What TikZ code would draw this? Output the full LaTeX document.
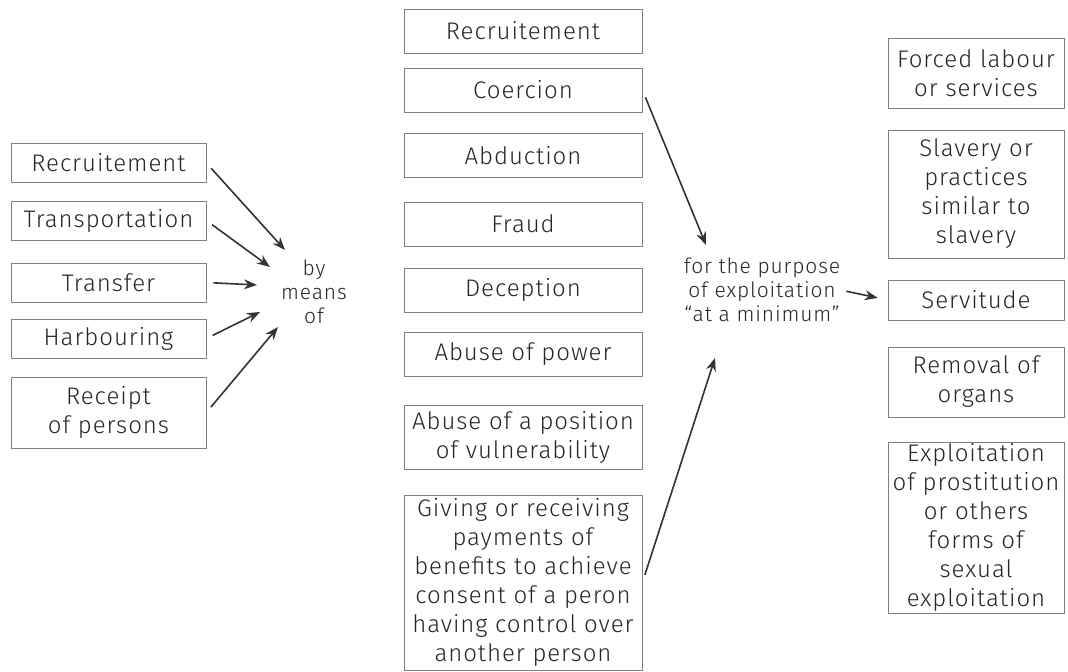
\documentclass[tikz,border=0pt]{standalone}
\usepackage{fontspec}
\setmainfont{Fira Sans Light}[LetterSpace=4]
\usetikzlibrary{arrows.meta}
\newcommand{\boxFont}{\fontsize{12}{14.5}\selectfont}
\newcommand{\labelFont}{\fontsize{10.5}{12}\selectfont}
\newcommand{\myActColumn}{%%
  %% The acts, on the left.
  \node[actStyle] (recruitLeft) at (\xAct,163) {Recruitement};
  \node[actStyle] (transport) at (\xAct,220.5) {Transportation};
  \node[actStyle] (transfer) at (\xAct,282.5) {Transfer};
  \node[actStyle] (harbour) at (\xAct,338.5) {Harbouring};
  \node[actStyle,minimum height=35.5pt] (receipt) at (\xAct,412.5)
  {Receipt\\of persons};
}
\newcommand{\myMeansColumn}{%%
  %% The means, in the middle.
  \node[meansStyle] (recruitMid) at (\xMeans,31) {Recruitement};
  \node[meansStyle] (coercion) at (\xMeans,90) {Coercion};
  \node[meansStyle] (abduction) at (\xMeans,155.5) {Abduction};
  \node[meansStyle] (fraud) at (\xMeans,224) {Fraud};
  \node[meansStyle] (deception) at (\xMeans,290) {Deception};
  \node[meansStyle] (abusePower) at (\xMeans,354) {Abuse of power};
  \node[meansStyle,minimum height=32pt] (abusePosition) at (\xMeans,437)
  {Abuse of a position\\of vulnerability};
  \node[meansStyle,minimum height=87.5pt] (giving) at (\xMeans,582.5)
  {Giving or receiving\\payments of\\benefits to achieve\\consent of a peron\\
   having control over\\another person};
}
\newcommand{\myPurposeColumn}{%%
  %% The purposes, on the right.
  \node[purposeStyle,minimum height=35pt] (forced) at (\xPurpose,73)
  {Forced labour\\or services};
  \node[purposeStyle,minimum height=64pt] (slavery) at (\xPurpose,194)
  {Slavery or\\practices\\similar to\\slavery};
  \node[purposeStyle] (servitude) at (\xPurpose,300) {Servitude};
  \node[purposeStyle,minimum height=35pt] (removal) at (\xPurpose,382)
  {Removal of\\organs};
  \node[purposeStyle,minimum height=85.5pt] (exploit) at (\xPurpose,527.5)
  {Exploitation\\of prostitution\\or others\\forms of\\sexual\\exploitation};
}

\begin{document}
\begin{tikzpicture}[%%
  x=0.5pt,y=-0.5pt,
  boxStyle/.style={draw=black!50,line width=0.4pt,align=center,
    inner sep=0pt,text=black!85,font=\boxFont},
  actStyle/.style={boxStyle,minimum width=97.5pt,minimum height=19.5pt},
  meansStyle/.style={boxStyle,minimum width=119pt,minimum height=22pt},
  purposeStyle/.style={boxStyle,minimum width=88pt,minimum height=20pt},
  labelStyle/.style={align=center,inner sep=0pt,text=black!85,
    font=\labelFont},
  arrowStyle/.style={-{Stealth[length=6.5pt,width=5pt]},line width=0.8pt,
    black!80}
]
\useasboundingbox (0,0) rectangle (1068,672);
%%
%% Centres of the three columns.
\pgfmathsetmacro{\xAct}{108.5}
\pgfmathsetmacro{\xMeans}{523}
\pgfmathsetmacro{\xPurpose}{976}
%%
\myActColumn
\myMeansColumn
\myPurposeColumn
%%
%% The two labels.
\node[labelStyle] (byMeans) at (314,292) {by\\means\\of};
\node[labelStyle] (purpose) at (762,290)
{for the purpose\\of exploitation\\``at a minimum''};
%%
%% Where the arrows end.
\coordinate (tipA) at (285,250);
\coordinate (tipB) at (270,267);
\coordinate (tipC) at (257,285);
\coordinate (tipD) at (260,312);
\coordinate (tipE) at (278,327);
\coordinate (coercionTip) at (706,245);
\coordinate (givingTip) at (715,358);
%%
%% Draw the arrows.
\draw[arrowStyle,shorten <=3.5pt] (recruitLeft.east) -- (tipA);
\draw[arrowStyle,shorten <=3.5pt] (transport.east) -- (tipB);
\draw[arrowStyle,shorten <=3.5pt] (transfer.east) -- (tipC);
\draw[arrowStyle,shorten <=3.5pt] (harbour.east) -- (tipD);
\draw[arrowStyle,shorten <=3.5pt] (receipt.east) -- (tipE);
\draw[arrowStyle,shorten <=4pt] (coercion.east) -- (coercionTip);
\draw[arrowStyle,shorten <=4pt] (giving.east) -- (givingTip);
\draw[arrowStyle,shorten <=3pt,shorten >=5pt] (purpose.east) -- (servitude.west);
\end{tikzpicture}
\end{document}
